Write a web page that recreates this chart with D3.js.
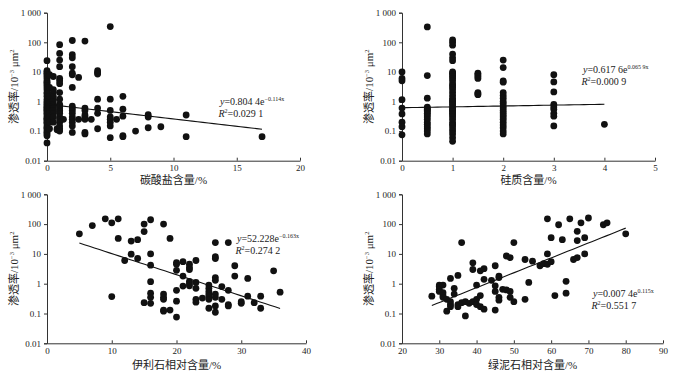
<!DOCTYPE html>
<html>
<head>
<meta charset="utf-8">
<script src="https://cdn.jsdelivr.net/npm/d3@7"></script>
<style>
  body { margin: 0; background: #fff; }
  svg text { font-family: "Liberation Serif", "Noto Sans CJK SC", serif; fill: #222; }
</style>
</head>
<body>
<div id="chart"></div>
<script>
// permeability (10^-3 um^2) against content, grouped by x value
const carbonate = [
  [0, [24, 11, 10, 9, 8, 7, 6, 5, 4.5, 4, 3.5, 3, 2.5, 2, 1.8, 1.5, 1.2, 1, 0.9, 0.8, 0.7, 0.65, 0.6, 0.55, 0.5, 0.45, 0.4, 0.35, 0.3, 0.27, 0.25, 0.22, 0.2, 0.18, 0.15, 0.13, 0.12, 0.1, 0.09, 0.08, 0.07, 0.04]],
  [0.2, [8, 3, 1.5, 0.9, 0.6, 0.4, 0.3, 0.2, 0.12]],
  [0.5, [7, 2.5, 2, 1.5, 1.2, 1, 0.8, 0.7, 0.6, 0.5, 0.4, 0.3, 0.2]],
  [0.8, [0.12, 0.11]],
  [1, [83, 42, 25, 15, 6, 5, 4, 2, 1.2, 0.8, 0.7, 0.6, 0.5, 0.45, 0.4, 0.3, 0.25, 0.2, 0.15, 0.12, 0.1]],
  [1.3, [0.25]],
  [2, [115, 38, 30, 15, 9, 8, 3, 0.7, 0.6, 0.5, 0.4, 0.3, 0.25, 0.2, 0.15, 0.09]],
  [2.5, [6.5, 0.25]],
  [3, [110, 0.6, 0.5, 0.35, 0.3, 0.25, 0.09, 0.08]],
  [3.5, [0.25]],
  [4, [11, 9.5, 8.5, 1.2, 0.6, 0.4, 0.12]],
  [5, [340, 1.2, 0.5, 0.3, 0.25, 0.2, 0.15, 0.06]],
  [5.5, [0.25]],
  [6, [1.5, 0.55, 0.32, 0.07, 0.065]],
  [7, [0.1]],
  [8, [0.36, 0.3, 0.13]],
  [9, [0.14]],
  [11, [0.35, 0.065]],
  [17, [0.065]]
];

const silica = [
  [0, [10, 6, 5, 1.15, 0.6, 0.38, 0.2, 0.14, 0.075]],
  [0.5, [330, 7.5, 1.3, 0.65, 0.6, 0.55, 0.5, 0.45, 0.4, 0.35, 0.3, 0.25, 0.2, 0.17, 0.14, 0.12, 0.1, 0.08]],
  [1, [120, 100, 80, 40, 30, 24, 10, 9, 8, 7, 6, 5, 4, 3.5, 3, 2.5, 2, 1.6, 1.3, 1.1, 1, 0.9, 0.8, 0.7, 0.6, 0.55, 0.5, 0.45, 0.4, 0.35, 0.3, 0.25, 0.2, 0.17, 0.15, 0.12, 0.1, 0.08, 0.06, 0.045]],
  [1.5, [9, 8, 7, 6, 2, 1.8, 1.7]],
  [2, [25, 14, 5, 4.5, 2, 1.6, 1.3, 1, 0.85, 0.7, 0.6, 0.5, 0.42, 0.35, 0.3, 0.25, 0.2, 0.16, 0.13, 0.1, 0.08]],
  [3, [8, 4.6, 2.1, 0.8, 0.65, 0.55, 0.4, 0.32, 0.15]],
  [4, [0.17]]
];

const illite = [
  [5, [47]], [7, [89]], [9, [150]], [10, [110, 0.37]], [11, [150, 33]],
  [12, [6]], [13, [27, 9.8]], [14, [30, 7]], [15, [100, 56, 0.23]],
  [16, [140, 10, 4.2, 1.17, 0.48, 0.35, 0.22]],
  [18, [100, 0.45, 0.35, 0.3, 0.13, 0.12]], [19, [33, 0.13]],
  [20, [5.1, 4.5, 2.8, 0.6, 0.26, 0.076]], [21, [5.5, 1.8, 0.83]],
  [22, [4.5, 3.5, 3, 1.2, 1, 0.85]], [23, [6, 1.1, 0.7, 0.3, 0.24]],
  [24, [0.33]], [25, [0.9, 0.7, 0.55, 0.45, 0.38, 0.3, 0.15]],
  [26, [24, 8.1, 7, 1.6, 1.3, 0.45, 0.35, 0.18, 0.11]], [27, [0.8, 0.3]],
  [28, [24, 0.6, 0.2, 0.18]], [29, [4, 1.8]], [30, [0.25, 0.22]],
  [31, [1.5, 0.38]], [32, [0.23]], [33, [0.38, 0.15]], [35, [2.7]], [36, [0.52]]
];

const chlorite = [
  [28, [0.38]], [30, [0.9, 0.8, 0.65, 0.55]], [31, [0.9, 0.5, 0.4, 0.35]],
  [32, [0.3, 0.12]], [33, [1.5, 0.25, 0.2, 0.17]], [34, [0.7, 0.45]],
  [35, [1.9, 0.2, 0.17]], [36, [24, 0.23]], [37, [0.25, 0.083]], [38, [0.22]],
  [39, [5, 3, 0.25]], [40, [0.9, 0.3, 0.2]], [41, [2.7, 0.4, 0.17]],
  [42, [3.2, 1.4, 0.14]], [44, [1.3]], [45, [4, 0.85, 0.55, 0.13]],
  [46, [1.8, 1.6, 0.35, 0.28]], [47, [0.65]], [48, [8.5, 0.62]],
  [49, [7.5, 0.55, 0.35]], [50, [24, 0.25]], [53, [6.5, 0.3]], [54, [1.1]],
  [55, [5.7]], [57, [4]], [58, [4.7]], [59, [150, 10, 4.5]], [60, [35, 5.5]],
  [61, [0.4]], [62, [95]], [63, [30]], [64, [1.2, 0.48]], [65, [150]],
  [66, [6.5]], [67, [57, 28, 7.5]], [68, [110]], [69, [35, 10]], [70, [160]],
  [74, [95]], [75, [110]], [80, [47]]
];

// fitted curves y = a * e^(b x), drawn between xFrom and xTo
const fits = [
  { a: 0.8044, b: -0.114, xFrom: 0, xTo: 17, eq: '0.804 4e', exp: '\u22120.114x', r2: '0.029 1' },
  { a: 0.6176, b: 0.0659, xFrom: 0, xTo: 4, eq: '0.617 6e', exp: '0.065 9x', r2: '0.000 9' },
  { a: 52.228, b: -0.163, xFrom: 5, xTo: 36, eq: '52.228e', exp: '\u22120.163x', r2: '0.274 2' },
  { a: 0.0074, b: 0.115, xFrom: 28, xTo: 80, eq: '0.007 4e', exp: '0.115x', r2: '0.551 7' }
];

const xLabels = ['碳酸盐含量/%', '硅质含量/%', '伊利石相对含量/%', '绿泥石相对含量/%'];
const xDomains = [[0, 20], [0, 5], [0, 40], [20, 90]];
const xTicks = [[0, 5, 10, 15, 20], [0, 1, 2, 3, 4, 5], [0, 10, 20, 30, 40], [20, 30, 40, 50, 60, 70, 80, 90]];
const yTicks = [0.01, 0.1, 1, 10, 100, 1000];
const yTickLabels = ['0.01', '0.1', '1', '10', '100', '1 000'];

const datasets = [carbonate, silica, illite, chlorite];

// layout of the four panels
const panels = [
  { left: 47, right: 300, top: 12.7, bottom: 160.7, eqX: 220, eqY: 105, labelY: 184 },
  { left: 402, right: 655, top: 12.7, bottom: 160.7, eqX: 583, eqY: 73, labelY: 184 },
  { left: 47, right: 306, top: 194.3, bottom: 343.3, eqX: 237, eqY: 242, labelY: 369 },
  { left: 402, right: 663, top: 194.3, bottom: 343.3, eqX: 593, eqY: 297, labelY: 369 }
];

const svg = d3.select('#chart').append('svg')
  .attr('width', 678)
  .attr('height', 374);

panels.forEach((p, i) => {
  const g = svg.append('g');
  const x = d3.scaleLinear().domain(xDomains[i]).range([p.left, p.right]);
  const y = d3.scaleLog().domain([0.01, 1000]).range([p.bottom, p.top]);

  // axes
  const xAxis = g.append('g')
    .attr('transform', `translate(0,${p.bottom})`)
    .call(d3.axisBottom(x).tickValues(xTicks[i]).tickFormat(d3.format('d'))
      .tickSizeInner(-3).tickSizeOuter(0).tickPadding(4));
  const yAxis = g.append('g')
    .attr('transform', `translate(${p.left},0)`)
    .call(d3.axisLeft(y).tickValues(yTicks).tickFormat((d, k) => yTickLabels[k])
      .tickSizeOuter(0).tickSize(3).tickPadding(3));
  [xAxis, yAxis].forEach(a => {
    a.selectAll('path, line').attr('stroke', '#333').attr('stroke-width', 1);
    a.selectAll('text').attr('font-size', 9).attr('fill', '#333')
      .style('font-family', '"Liberation Serif", serif');
  });

  // points
  const pts = datasets[i].flatMap(([xv, ys]) => ys.map(v => [xv, v]));
  g.append('g').selectAll('circle')
    .data(pts)
    .enter().append('circle')
    .attr('cx', d => x(d[0]))
    .attr('cy', d => y(d[1]))
    .attr('r', 3.4)
    .attr('fill', '#111');

  // trend line
  const f = fits[i];
  const line = d3.line().x(d => x(d)).y(d => y(f.a * Math.exp(f.b * d)));
  g.append('path')
    .datum(d3.range(0, 41).map(k => f.xFrom + (f.xTo - f.xFrom) * k / 40))
    .attr('d', line)
    .attr('fill', 'none')
    .attr('stroke', '#111')
    .attr('stroke-width', 1.1);

  // equation and R^2
  const eq = g.append('text').attr('x', p.eqX).attr('y', p.eqY).attr('font-size', 10);
  eq.append('tspan').attr('font-style', 'italic').text('y');
  eq.append('tspan').text('=' + f.eq);
  eq.append('tspan').attr('font-size', 6).attr('dy', -4).text(f.exp);
  const r2 = g.append('text').attr('x', p.eqX - 1.5).attr('y', p.eqY + 12).attr('font-size', 10);
  r2.append('tspan').attr('font-style', 'italic').text('R');
  r2.append('tspan').attr('font-size', 6).attr('dy', -4).text('2');
  r2.append('tspan').attr('dy', 4).text('=' + f.r2);

  // axis titles
  g.append('text')
    .attr('x', (p.left + p.right) / 2)
    .attr('y', p.labelY)
    .attr('text-anchor', 'middle')
    .attr('font-size', 11)
    .text(xLabels[i]);

  const yl = g.append('text')
    .attr('transform', `translate(${p.left - 29},${(p.top + p.bottom) / 2}) rotate(-90)`)
    .attr('text-anchor', 'middle')
    .attr('font-size', 11);
  yl.append('tspan').text('渗透率/10');
  yl.append('tspan').attr('font-size', 6.5).attr('dy', -4).text('\u22123');
  yl.append('tspan').attr('dy', 4).text(' μm');
  yl.append('tspan').attr('font-size', 6.5).attr('dy', -4).text('2');
});
</script>
</body>
</html>
